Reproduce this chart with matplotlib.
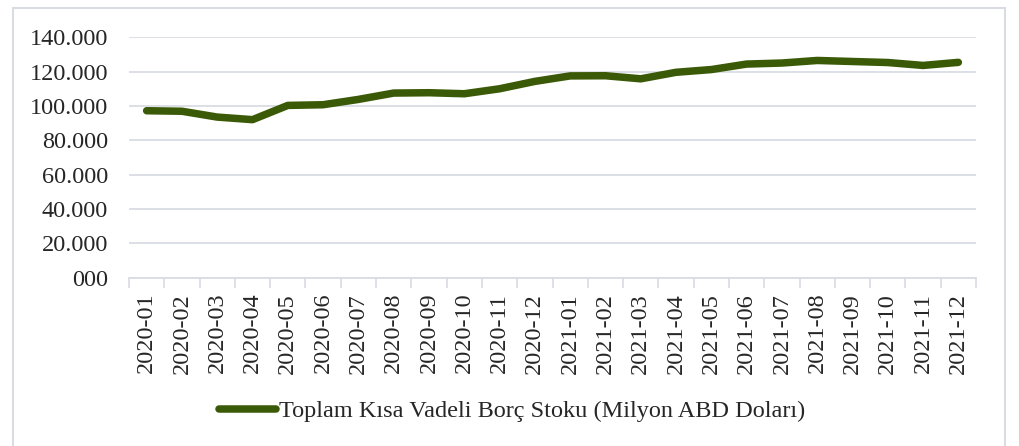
import matplotlib
matplotlib.use("Agg")
import matplotlib.pyplot as plt
from matplotlib.patches import Rectangle
from matplotlib.ticker import FuncFormatter, MultipleLocator

categories = ["2020-01", "2020-02", "2020-03", "2020-04", "2020-05", "2020-06",
              "2020-07", "2020-08", "2020-09", "2020-10", "2020-11", "2020-12",
              "2021-01", "2021-02", "2021-03", "2021-04", "2021-05", "2021-06",
              "2021-07", "2021-08", "2021-09", "2021-10", "2021-11", "2021-12"]
values = [97200, 96900, 93500, 92000, 100300, 100700,
          103800, 107500, 107700, 107100, 110000, 114300,
          117500, 117600, 115800, 119600, 121200, 124400,
          125000, 126500, 125900, 125300, 123600, 125400]
series_name = "Toplam Kısa Vadeli Borç Stoku (Milyon ABD Doları)"

plt.rcParams['font.family'] = ['Liberation Serif', 'DejaVu Serif']
text_color = '#262626'
line_color = '#3b5a07'
grid_color = '#d9dce3'
fs = 17.5

fig = plt.figure(figsize=(10.19, 4.46), dpi=100)
W, H = 1019, 446
ax = fig.add_axes([129 / W, 1 - 277.5 / H, (976 - 129) / W, (277.5 - 37.3) / H])

x = list(range(len(categories)))
ax.plot(x, values, color=line_color, lw=5.4, solid_capstyle='round',
        solid_joinstyle='round', label=series_name)

ax.set_xlim(-0.5, len(categories) - 0.5)
ax.set_ylim(0, 140000)
ax.yaxis.set_major_locator(MultipleLocator(20000))

def fmt(v, pos):
    v = int(round(v))
    if v == 0:
        return "000"
    return f"{v // 1000}.{v % 1000:03d}"

ax.yaxis.set_major_formatter(FuncFormatter(fmt))
ax.set_xticks(x)
ax.set_xticklabels(categories, rotation=90)
ax.set_xticks([i - 0.5 for i in range(len(categories) + 1)], minor=True)
ax.tick_params(axis='x', which='major', length=0, pad=11, labelsize=fs, labelcolor=text_color)
ax.tick_params(axis='x', which='minor', length=7, width=1.2, color=grid_color)
ax.tick_params(axis='y', length=0, pad=15, labelsize=fs, labelcolor=text_color)

ax.grid(axis='y', color=grid_color, lw=1.3)
ax.set_axisbelow(True)
for s in ['top', 'right', 'left']:
    ax.spines[s].set_visible(False)
ax.spines['bottom'].set_color(grid_color)
ax.spines['bottom'].set_linewidth(1.3)

leg = fig.legend(loc='center', bbox_to_anchor=(512 / W, 1 - 411 / H), frameon=False,
                 fontsize=fs, handlelength=2.35, handletextpad=0.12, labelcolor=text_color)

fig.patches.append(Rectangle((13 / W, -0.05), (1005 - 13) / W, 1.05 - 7.5 / H,
                             transform=fig.transFigure, fill=False,
                             edgecolor=grid_color, lw=1.5))

fig.savefig("out.png", dpi=100)
